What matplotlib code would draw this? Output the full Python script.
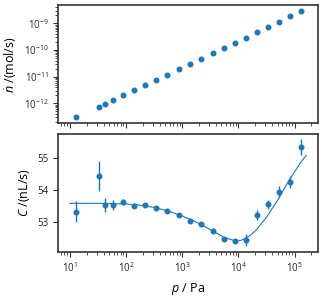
import numpy as np
import matplotlib
matplotlib.use("Agg")
import matplotlib.pyplot as plt

plt.rcParams['font.family'] = ['Open Sans', 'DejaVu Sans']
plt.rcParams['mathtext.fontset'] = 'custom'
plt.rcParams['mathtext.rm'] = 'Open Sans'
plt.rcParams['mathtext.it'] = 'Open Sans:italic'

# pressure points (Pa)
p = [13.1, 32.8, 42.5, 59.7, 90, 137, 215, 338, 545, 866, 1378, 2193,
     3535, 5470, 8580, 13460, 21100, 34000, 53400, 83700, 128000]

# molar flow (mol/s)
ndot = [3.0e-13, 7.5e-13, 9.4e-13, 1.33e-12, 2.0e-12, 3.1e-12, 4.7e-12,
        7.5e-12, 1.19e-11, 1.88e-11, 2.99e-11, 4.7e-11, 7.7e-11, 1.15e-10,
        1.82e-10, 2.9e-10, 4.6e-10, 7.3e-10, 1.16e-9, 1.88e-9, 2.9e-9]

# conductance (nL/s) and its uncertainty
C = [53.32, 54.45, 53.53, 53.53, 53.63, 53.51, 53.53, 53.44, 53.33, 53.22,
     53.03, 52.93, 52.71, 52.45, 52.38, 52.42, 53.21, 53.55, 53.95, 54.26,
     55.35]
C_err = [0.32, 0.47, 0.22, 0.16, 0.10, 0.07, 0.06, 0.06, 0.06, 0.06,
         0.06, 0.06, 0.07, 0.06, 0.06, 0.18, 0.17, 0.14, 0.18, 0.18, 0.25]

fit_p = [10, 31.6, 100, 178, 316, 562, 1000, 1778, 3162, 5623, 8511, 11220,
         15850, 20890, 31620, 50120, 79430, 125900, 162200]
fit_C = [53.58, 53.58, 53.56, 53.52, 53.45, 53.34, 53.18, 52.99, 52.75,
         52.50, 52.40, 52.41, 52.55, 52.74, 53.14, 53.68, 54.30, 54.85, 55.10]

blue = '#1f77b4'
edge = '0.2'

fig = plt.figure(figsize=(3.25, 3.0), dpi=100)
ax1 = fig.add_axes([0.179, 0.589, 0.799, 0.394])
ax2 = fig.add_axes([0.179, 0.161, 0.799, 0.391], sharex=ax1)

ax1.plot(p, ndot, 'o', color=blue, ms=3.3)
ax1.set_yscale('log')
ax1.set_xscale('log')
ax1.set_ylim(1.78e-13, 4.9e-9)
ax1.set_ylabel(r'$\dot{n}$ /(mol/s)', fontsize=9)
ax1.tick_params(labelbottom=False)

ax2.plot(fit_p, fit_C, '-', color=blue, lw=0.8)
ax2.errorbar(p, C, yerr=C_err, fmt='o', color=blue, ms=3.3, elinewidth=1,
             capsize=0)
ax2.set_xscale('log')
ax2.set_xlim(6.2, 2.6e5)
ax2.set_ylim(52.05, 55.76)
ax2.set_yticks([53, 54, 55])
ax2.set_ylabel(r'$C$ /(nL/s)', fontsize=9)
ax2.set_xlabel(r'$p$ / Pa', fontsize=9)

for ax in (ax1, ax2):
    for s in ax.spines.values():
        s.set_color(edge)
        s.set_linewidth(1.2)
    ax.tick_params(which='both', direction='out', color=edge, labelsize=7,
                   labelcolor='0.15')
    ax.tick_params(which='major', length=3.5, width=0.8)
    ax.tick_params(which='minor', length=2, width=0.6)

fig.savefig('out.png', dpi=100)
